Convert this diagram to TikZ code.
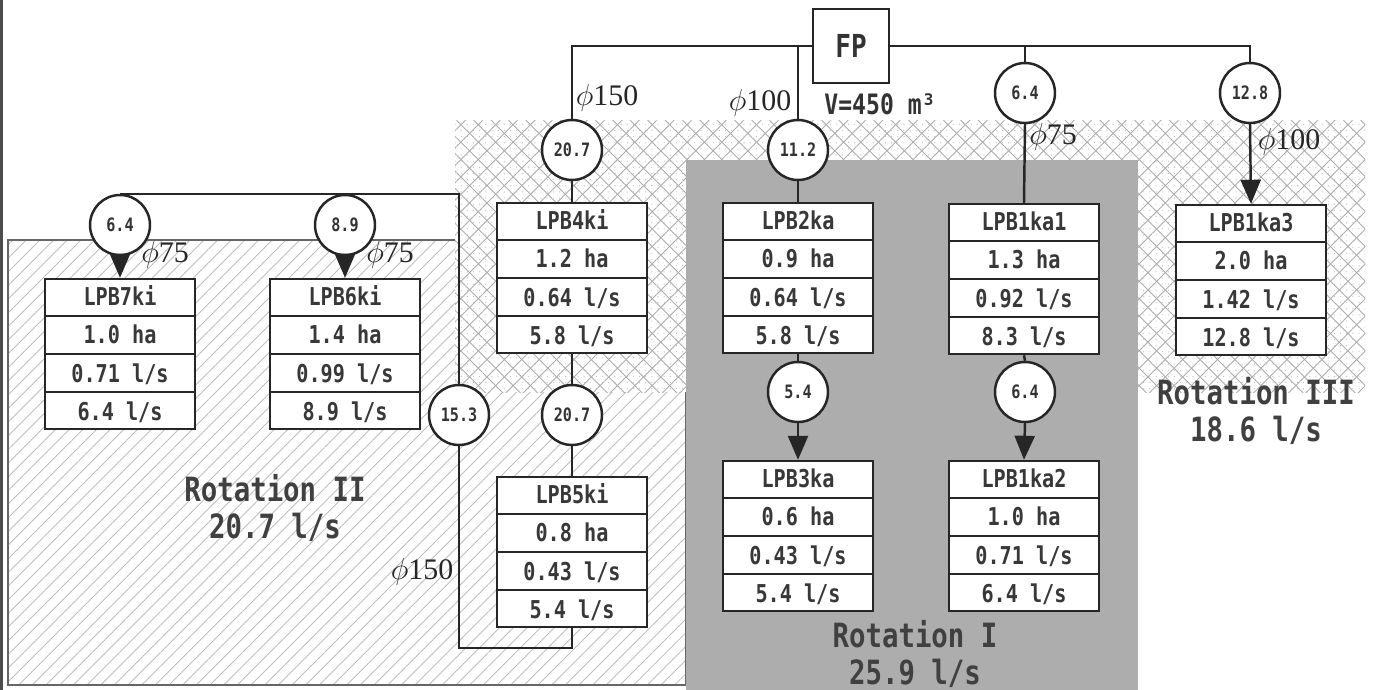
\documentclass[tikz,border=0pt]{standalone}
\usepackage{fontspec}
\setmainfont{DejaVu Sans Mono}[FakeStretch=0.82]
\newfontfamily\phifont{Liberation Serif}
\usetikzlibrary{arrows.meta,patterns.meta,calc}
\tikzset{
  ink/.style={line width=1.4pt, draw=black!85},
  tbl/.style={ink, fill=white, rectangle, minimum width=3cm, minimum height=3cm, inner sep=0pt},
  cell/.style={font=\bfseries\fontsize{14}{16}\selectfont, inner sep=0pt, text=black!78, text height=10.2pt, text depth=0pt},
  flow/.style={circle, ink, fill=white, minimum size=1.2cm, inner sep=0pt, font=\bfseries\fontsize{10.5}{11}\selectfont, text=black!80, text height=7.6pt, text depth=0pt},
  fpbox/.style={ink, fill=white, rectangle, minimum width=1.52cm, minimum height=1.48cm, inner sep=0pt, font=\bfseries\fontsize{18}{19}\selectfont, text=black!80},
  pipe/.style={ink},
  arr/.style={ink, -{Triangle[length=0.48cm,width=0.4cm]}},
  dia/.style={font=\phifont\fontsize{17}{17}\selectfont, text=black!85, inner sep=0pt},
  rot/.style={font=\bfseries\fontsize{19}{21}\selectfont, text=black!75, align=center, inner sep=0pt},
  vol/.style={font=\bfseries\fontsize{16}{18}\selectfont, text=black!80, inner sep=0pt},
}
\newcommand{\lpbtable}[6]{%
  \node[tbl] (#1) at (#2) {};
  \foreach \f in {0.25,0.5,0.75} {\draw[ink] ($(#1.north west)!\f!(#1.south west)$) -- ($(#1.north east)!\f!(#1.south east)$);}
  \node[cell] at ($(#1.north)!0.125!(#1.south)$) {#3};
  \node[cell] at ($(#1.north)!0.375!(#1.south)$) {#4};
  \node[cell] at ($(#1.north)!0.625!(#1.south)$) {#5};
  \node[cell] at ($(#1.north)!0.875!(#1.south)$) {#6};
}
\begin{document}
\begin{tikzpicture}[x=0.02cm, y=-0.02cm]
\useasboundingbox (0,0) rectangle (1377,690);
\fill[white] (0,0) rectangle (1377,690);
\fill[black!70] (0,0) rectangle (3,690);
% Rotation II region
\path[pattern={Lines[angle=45,distance=5.5pt,line width=0.5pt]}, pattern color=black!25] (8,240) rectangle (686,685);
\draw[black!60, line width=0.7pt] (8,240) rectangle (686,685);
% Rotation III region
\fill[white] (455,120) rectangle (1365,392);
\path[pattern={Lines[angle=45,distance=7pt,line width=0.5pt]}, pattern color=black!32] (455,120) rectangle (1365,392);
\path[pattern={Lines[angle=-45,distance=7pt,line width=0.5pt]}, pattern color=black!32] (455,120) rectangle (1365,392);
\path[pattern={Dots[distance=3.5pt,radius=0.35pt]}, pattern color=black!25] (455,120) rectangle (1365,392);
% Rotation I region
\fill[black!32] (686,160) rectangle (1138,690);

% pump
\node[fpbox] (FP) at (851,46) {FP};

% flow circles
\node[flow] (c64a) at (120,225) {6.4};
\node[flow] (c89) at (345,225) {8.9};
\node[flow] (c207a) at (572,150) {20.7};
\node[flow] (c112) at (798,150) {11.2};
\node[flow] (c64b) at (1025,93) {6.4};
\node[flow] (c128) at (1250,93) {12.8};
\node[flow] (c153) at (459,415) {15.3};
\node[flow] (c207b) at (572,415) {20.7};
\node[flow] (c54) at (798,392) {5.4};
\node[flow] (c64c) at (1025,392) {6.4};

% tables
\lpbtable{t7}{120,354}{LPB7ki}{1.0 ha}{0.71 l/s}{6.4 l/s}
\lpbtable{t6}{345,354}{LPB6ki}{1.4 ha}{0.99 l/s}{8.9 l/s}
\lpbtable{t4}{572,278}{LPB4ki}{1.2 ha}{0.64 l/s}{5.8 l/s}
\lpbtable{t5}{572,552}{LPB5ki}{0.8 ha}{0.43 l/s}{5.4 l/s}
\lpbtable{t2}{798,278}{LPB2ka}{0.9 ha}{0.64 l/s}{5.8 l/s}
\lpbtable{t1a}{1024,279}{LPB1ka1}{1.3 ha}{0.92 l/s}{8.3 l/s}
\lpbtable{t1c}{1251,280}{LPB1ka3}{2.0 ha}{1.42 l/s}{12.8 l/s}
\lpbtable{t3}{798,536}{LPB3ka}{0.6 ha}{0.43 l/s}{5.4 l/s}
\lpbtable{t1b}{1024,536}{LPB1ka2}{1.0 ha}{0.71 l/s}{6.4 l/s}

% junction coordinates
\coordinate (j1) at (798,46);
\coordinate (j2) at (1025,46);
\coordinate (j3) at (345,195);
\coordinate (l1) at (572,648);

% pipes
\draw[pipe] (FP.west) -| (c207a.north);
\draw[pipe] (j1) -- (c112.north);
\draw[pipe] (FP.east) -| (c128.north);
\draw[pipe] (j2) -- (c64b.north);
\draw[pipe] (c207a.south) -- (t4.north);
\draw[pipe] (t4.south) -- (c207b.north);
\draw[pipe] (c207b.south) -- (t5.north);
\draw[pipe] (t5.south) -- (l1) -| (c153.south);
\draw[pipe] (c153.north) |- (c64a.north);
\draw[pipe] (j3) -- (c89.north);
\draw[arr] (c64a.south) -- (t7.north);
\draw[arr] (c89.south) -- (t6.north);
\draw[pipe] (c112.south) -- (t2.north);
\draw[pipe] (t2.south) -- (c54.north);
\draw[arr] (c54.south) -- (t3.north);
\draw[pipe] (c64b.south) -- (t1a.north);
\draw[pipe] (t1a.south) -- (c64c.north);
\draw[arr] (c64c.south) -- (t1b.north);
\draw[arr] (c128.south) -- (t1c.north);

% pipe diameters
\node[dia] (d1) at (607,98) {$\phi$150};
\node[dia] (d2) at (760,103) {$\phi$100};
\node[dia] (d3) at (1053,137) {$\phi$75};
\node[dia] (d4) at (1289,142) {$\phi$100};
\node[dia] (d5) at (165,255) {$\phi$75};
\node[dia] (d6) at (390,255) {$\phi$75};
\node[dia] (d7) at (422,572) {$\phi$150};
\node[vol] (v) at (880,104) {V=450 m³};

% rotation labels
\node[rot] (r2) at (275,508) {Rotation II\\20.7 l/s};
\node[rot] (r1) at (915,654) {Rotation I\\25.9 l/s};
\node[rot] (r3) at (1256,411) {Rotation III\\18.6 l/s};
\end{tikzpicture}
\end{document}
